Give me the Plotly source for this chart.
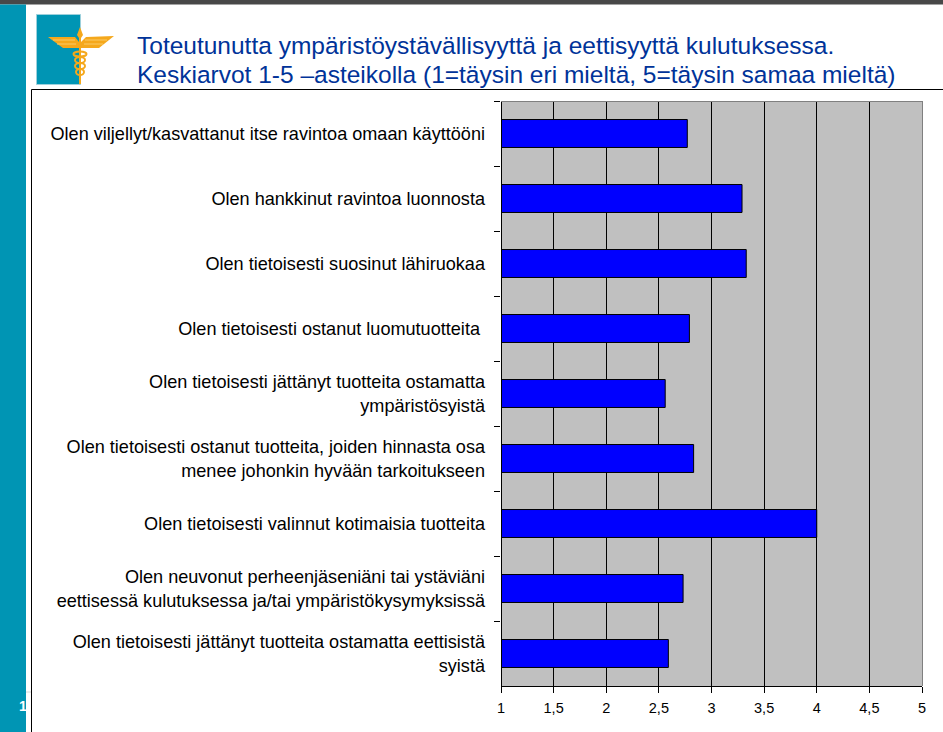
import plotly.graph_objects as go

categories = [
    "Olen viljellyt/kasvattanut itse ravintoa omaan käyttööni",
    "Olen hankkinut ravintoa luonnosta",
    "Olen tietoisesti suosinut lähiruokaa",
    "Olen tietoisesti ostanut luomutuotteita ",
    "Olen tietoisesti jättänyt tuotteita ostamatta<br>ympäristösyistä",
    "Olen tietoisesti ostanut tuotteita, joiden hinnasta osa<br>menee johonkin hyvään tarkoitukseen",
    "Olen tietoisesti valinnut kotimaisia tuotteita",
    "Olen neuvonut perheenjäseniäni tai ystäviäni<br>eettisessä kulutuksessa ja/tai ympäristökysymyksissä",
    "Olen tietoisesti jättänyt tuotteita ostamatta eettisistä<br>syistä",
]
values = [2.77, 3.29, 3.33, 2.79, 2.56, 2.83, 4.0, 2.73, 2.59]
tick_values = [1, 1.5, 2, 2.5, 3, 3.5, 4, 4.5, 5]
title_lines = [
    "Toteutunutta ympäristöystävällisyyttä ja eettisyyttä kulutuksessa.",
    "Keskiarvot 1-5 –asteikolla (1=täysin eri mieltä, 5=täysin samaa mieltä)",
]

W, H = 943, 732
L, R, T, B = 501, 922, 101, 686
FONT = "Liberation Sans"


def px(x):
    return (x - L) / (R - L)


def py(y):
    return (B - y) / (B - T)


def rect(x0, y0, x1, y1, fill, line=None, lw=0):
    return dict(type="rect", xref="paper", yref="paper", layer="above",
                x0=px(x0), x1=px(x1), y0=py(y0), y1=py(y1), fillcolor=fill,
                line=dict(color=line or fill, width=lw))


def poly(points, fill):
    path = "M" + " L".join(f"{px(x):.5f},{py(y):.5f}" for x, y in points) + " Z"
    return dict(type="path", xref="paper", yref="paper", layer="above", path=path,
                fillcolor=fill, line=dict(width=0))


def ring(cx, cy, rx, ry, color, width=1.5):
    return dict(type="circle", xref="paper", yref="paper", layer="above",
                x0=px(cx - rx), x1=px(cx + rx), y0=py(cy + ry), y1=py(cy - ry),
                fillcolor="rgba(0,0,0,0)", line=dict(color=color, width=width))


def hline(x0, x1, y, color="#000000", width=1):
    return dict(type="line", xref="paper", yref="paper", layer="above",
                x0=px(x0), x1=px(x1), y0=py(y), y1=py(y), line=dict(color=color, width=width))


def vline(x, y0, y1, color="#000000", width=1):
    return dict(type="line", xref="paper", yref="paper", layer="above",
                x0=px(x), x1=px(x), y0=py(y0), y1=py(y1), line=dict(color=color, width=width))


GOLD = "#F5A81C"
LIGHT = "#FBCB66"
TEAL = "#0095B4"
shapes = [
    rect(-2, -2, W + 2, 4.5, "#484848"),
    rect(-2, 4.5, 26, H + 2, TEAL),
    hline(26, 31, 692, "#D8D8D8"),
    rect(36.5, 14.5, 80.5, 84.5, TEAL, "#9CD0DC", 1),
    poly([(48, 37), (75, 37), (79, 42), (79, 48), (63, 48)], GOLD),
    poly([(114, 36), (86, 37), (81, 42), (81, 48), (99, 48)], GOLD),
    hline(53, 75, 40, LIGHT),
    hline(57, 76, 44, LIGHT),
    hline(85, 107, 40, LIGHT),
    hline(84, 103, 44, LIGHT),
    poly([(80, 27), (83, 35), (81, 38), (81, 84), (79, 84), (79, 38), (77, 35)], GOLD),
    ring(80, 54, 6.5, 2.5, GOLD, 2),
    ring(80, 60, 5, 3, GOLD, 2),
    ring(80, 66, 5, 3, GOLD, 2),
    ring(80, 72, 4, 3, GOLD, 2),
    vline(31.5, 89.5, H + 2),
    hline(31.5, W + 2, 89.5),
    vline(L + 0.5, T, B, "#000000"),
    hline(L, R + 1, T + 0.5, "#808080"),
    vline(R + 0.5, T, B, "#808080"),
]

fig = go.Figure(go.Bar(
    x=values, y=categories, orientation="h", width=0.43,
    marker=dict(color="#0000FF", line=dict(color="#000000", width=1)),
))

annotations = [
    dict(text=title_lines[0], xref="paper", yref="paper", x=px(135), y=py(46), xanchor="left",
         yanchor="middle", showarrow=False, font=dict(family=FONT, size=24.5, color="#003399")),
    dict(text=title_lines[1], xref="paper", yref="paper", x=px(135), y=py(75), xanchor="left",
         yanchor="middle", showarrow=False, font=dict(family=FONT, size=24.5, color="#003399")),
    dict(text="<b>1</b>", xref="paper", yref="paper", x=px(22.5), y=py(706), xanchor="center",
         yanchor="middle", showarrow=False, font=dict(family=FONT, size=14, color="#FFFFFF")),
]

fig.update_layout(
    width=W, height=H, autosize=False,
    margin=dict(l=L, r=W - R, t=T, b=H - B, pad=0),
    paper_bgcolor="#FFFFFF", plot_bgcolor="#C0C0C0",
    separators=", ", showlegend=False, shapes=shapes, annotations=annotations,
    font=dict(family=FONT, color="#000000"),
)
fig.update_xaxes(
    range=[1, 5], tickmode="array", tickvals=tick_values, ticks="outside", ticklen=6,
    tickcolor="#000000", tickwidth=1, showgrid=True, gridcolor="#000000", gridwidth=1,
    showline=True, linecolor="#000000", linewidth=1, zeroline=False,
    tickfont=dict(family=FONT, size=14.5, color="#000000"), ticklabelstandoff=3,
)
fig.update_yaxes(
    type="category", autorange="reversed", tickson="boundaries", ticks="outside", ticklen=6,
    tickcolor="#000000", tickwidth=1, showgrid=False, showline=False,
    tickfont=dict(family=FONT, size=18.1, color="#000000"), ticklabelstandoff=15,
)

fig.write_html("out.html", config=dict(displayModeBar=False),
               post_script="document.body.style.margin='0';document.documentElement.style.overflow='hidden';")
